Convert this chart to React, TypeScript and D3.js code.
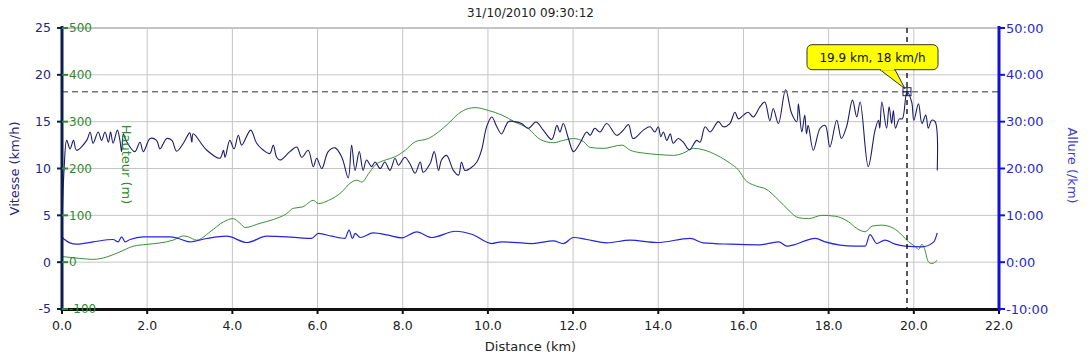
import * as d3 from 'd3';

const TITLE = '31/10/2010 09:30:12';

// Vitesse (km/h) vs distance (km)
const speedKm = [0, 0.05, 0.11, 0.19, 0.27, 0.34, 0.58, 0.66, 0.73, 0.85, 0.93, 1.01, 1.09, 1.14, 1.2, 1.3, 1.36, 1.4, 1.44, 1.5, 1.71, 1.83, 1.91, 2.07, 2.22, 2.3, 2.46, 2.58, 2.69, 2.85, 3.0, 3.05, 3.08, 3.4, 3.71, 3.79, 3.83, 3.94, 4.04, 4.14, 4.22, 4.43, 4.57, 4.73, 4.88, 4.96, 5.04, 5.12, 5.35, 5.51, 5.63, 5.78, 5.9, 5.98, 6.1, 6.25, 6.41, 6.57, 6.72, 6.8, 6.88, 6.98, 7.07, 7.15, 7.27, 7.35, 7.47, 7.58, 7.7, 7.82, 7.9, 8.05, 8.17, 8.29, 8.41, 8.48, 8.64, 8.74, 8.84, 8.91, 9.03, 9.19, 9.31, 9.38, 9.46, 9.58, 9.74, 9.85, 9.97, 10.09, 10.21, 10.32, 10.48, 10.63, 10.79, 10.95, 11.13, 11.3, 11.5, 11.62, 11.69, 11.77, 11.89, 12.01, 12.16, 12.32, 12.4, 12.51, 12.63, 12.79, 13.02, 13.18, 13.3, 13.41, 13.65, 13.81, 13.92, 14.0, 14.06, 14.12, 14.2, 14.28, 14.35, 14.47, 14.59, 14.73, 14.9, 14.98, 15.1, 15.22, 15.41, 15.53, 15.68, 15.8, 15.88, 16.0, 16.11, 16.23, 16.39, 16.5, 16.62, 16.7, 16.82, 16.99, 17.13, 17.25, 17.29, 17.37, 17.44, 17.48, 17.52, 17.64, 17.8, 17.92, 18.03, 18.19, 18.3, 18.42, 18.56, 18.66, 18.74, 18.93, 19.09, 19.17, 19.2, 19.25, 19.36, 19.42, 19.48, 19.52, 19.57, 19.66, 19.73, 19.84, 19.95, 20.0, 20.11, 20.19, 20.28, 20.34, 20.42, 20.5, 20.55];
const speedKmh = [4, 10, 13.0, 12.1, 13.0, 11.95, 13.0, 13.9, 12.7, 13.9, 13.0, 13.9, 12.8, 13.9, 12.7, 14.1, 13.0, 11.8, 13.7, 13.0, 11.8, 12.8, 11.8, 13.2, 13.0, 12.1, 13.2, 13.0, 11.85, 12.7, 13.8, 12.8, 13.7, 11.95, 11.1, 11.95, 11.2, 13.0, 12.1, 13.55, 12.5, 14.1, 12.7, 11.95, 11.6, 12.5, 11.2, 10.9, 11.8, 12.3, 11.2, 11.95, 10.2, 11.1, 10.0, 11.8, 12.2, 11.2, 9.0, 12.5, 9.8, 11.8, 9.8, 10.9, 10.2, 10.7, 10.0, 10.7, 9.8, 11.1, 10.35, 11.2, 10.5, 9.5, 10.7, 9.6, 10.5, 11.8, 9.8, 10.9, 11.4, 9.8, 9.3, 10.7, 9.8, 10.0, 10.7, 11.95, 14.45, 15.5, 14.45, 13.7, 15.0, 15.0, 14.8, 14.3, 14.97, 14.1, 13.1, 14.6, 13.9, 14.8, 13.2, 11.8, 12.7, 13.9, 13.55, 14.3, 13.9, 14.8, 13.55, 14.1, 14.7, 13.2, 14.1, 14.45, 13.9, 14.45, 13.4, 13.9, 13.0, 13.7, 12.7, 13.2, 12.8, 12.0, 13.0, 12.8, 14.45, 13.9, 15.0, 14.45, 14.8, 16.0, 15.3, 15.7, 16.0, 15.5, 16.6, 17.1, 15.1, 16.4, 14.8, 18.4, 15.9, 15.0, 16.9, 13.9, 15.7, 13.7, 14.6, 11.95, 14.3, 14.6, 12.3, 15.15, 13.2, 14.45, 17.3, 15.5, 17.1, 10.2, 14.1, 15.15, 14.3, 17.1, 14.3, 16.6, 14.8, 16.2, 14.3, 15.3, 15.3, 18.2, 17.1, 15.15, 16.9, 14.8, 15.7, 14.3, 15.15, 15.0, 9.8];

// Hauteur (m)
const heightKm = [0, 0.42, 0.73, 1.05, 1.36, 1.67, 1.99, 2.3, 2.61, 2.85, 2.97, 3.16, 3.48, 3.79, 4.02, 4.18, 4.3, 4.65, 4.96, 5.28, 5.43, 5.65, 5.9, 6.02, 6.26, 6.57, 6.77, 6.92, 7.04, 7.2, 7.35, 7.59, 7.82, 8.06, 8.29, 8.6, 8.84, 9.07, 9.31, 9.54, 9.7, 10.01, 10.33, 10.64, 10.95, 11.23, 11.54, 11.77, 12.01, 12.25, 12.4, 12.71, 13.15, 13.34, 13.65, 13.97, 14.36, 14.59, 14.83, 15.06, 15.38, 15.69, 15.89, 16.04, 16.32, 16.51, 16.83, 17.06, 17.29, 17.53, 17.84, 18.16, 18.47, 18.66, 18.86, 19.02, 19.25, 19.53, 19.72, 19.88, 20.04, 20.11, 20.19, 20.25, 20.34, 20.42, 20.55];
const heightM = [12, 8, 6, 11, 22, 34, 38, 41, 47, 56, 54, 47, 65, 86, 93, 83, 74, 83, 91, 104, 115, 118, 132, 125, 132, 150, 169, 175, 171, 189, 207, 218, 225, 239, 257, 264, 278, 296, 317, 328, 330, 324, 314, 299, 285, 262, 255, 260, 264, 257, 245, 243, 250, 239, 233, 230, 228, 233, 243, 240, 228, 211, 196, 176, 162, 157, 132, 111, 95, 93, 100, 98, 86, 72, 65, 77, 79, 72, 58, 43, 33, 27, 38, 29, 1, -3, 4];

// Allure (min/km)
const paceKm = [0, 0.03, 0.34, 0.73, 1.2, 1.32, 1.4, 1.48, 1.6, 1.91, 2.54, 2.73, 3.0, 3.4, 3.87, 4.34, 4.81, 5.28, 5.59, 5.86, 6.02, 6.33, 6.64, 6.74, 6.82, 6.88, 7.0, 7.31, 7.66, 7.98, 8.33, 8.68, 9.24, 9.62, 10.09, 10.32, 11.05, 11.54, 11.77, 12.01, 12.32, 12.79, 13.34, 13.97, 14.75, 15.06, 15.69, 16.32, 16.55, 16.83, 17.02, 17.69, 17.92, 18.62, 18.86, 18.97, 19.13, 19.32, 19.56, 19.8, 20.19, 20.47, 20.55];
const paceMin = [5.6, 5.06, 3.84, 4.34, 4.84, 4.34, 5.4, 4.34, 4.84, 5.4, 5.4, 5.06, 4.34, 5.06, 5.55, 4.2, 5.55, 5.4, 5.2, 5.06, 6.13, 5.55, 5.06, 6.83, 5.06, 6.13, 5.27, 6.26, 5.76, 5.2, 6.48, 5.27, 6.6, 5.97, 3.98, 4.34, 3.98, 4.55, 3.98, 5.27, 4.84, 4.12, 4.7, 4.2, 5.06, 4.12, 3.84, 3.7, 3.9, 4.34, 3.42, 5.06, 4.34, 3.42, 3.42, 5.9, 3.98, 4.7, 3.84, 3.42, 3.27, 4.34, 6.26];

const distTicks = [0, 2, 4, 6, 8, 10, 12, 14, 16, 18, 20, 22];
const speedTicks = [-5, 0, 5, 10, 15, 20, 25];
const heightTicks = [-100, 0, 100, 200, 300, 400, 500];
const paceTicks = [-10, 0, 10, 20, 30, 40, 50];

const crossKm = 19.84;
const crossSpeed = 18.2;
const crossLabel = '19.9 km, 18 km/h';

const W = 1092;
const H = 360;
const M = { top: 28, right: 93, bottom: 51, left: 62 };
const FONT = '"DejaVu Sans", Verdana, sans-serif';

const NAVY = '#262680';
const GREEN = '#2d8b2d';
const BLUE = '#2a2ad0';

function fmtPace(m: number) {
  const sign = m < 0 ? '-' : '';
  const a = Math.abs(m);
  const mm = Math.floor(a);
  const ss = Math.round((a - mm) * 60);
  return `${sign}${mm}:${String(ss).padStart(2, '0')}`;
}

export default function App() {
  const x = d3.scaleLinear().domain([0, 22]).range([M.left, W - M.right]);
  const ySpeed = d3.scaleLinear().domain([-5, 25]).range([H - M.bottom, M.top]);
  const yHeight = d3.scaleLinear().domain([-100, 500]).range([H - M.bottom, M.top]);
  const yPace = d3.scaleLinear().domain([-10, 50]).range([H - M.bottom, M.top]);

  const x0 = M.left;
  const x1 = W - M.right;
  const yTop = M.top;
  const yBot = H - M.bottom;

  const speedLine = d3
    .line<number>()
    .x((_, i) => x(speedKm[i]))
    .y((d) => ySpeed(d))
    .curve(d3.curveCatmullRom.alpha(0.5));
  const heightLine = d3
    .line<number>()
    .x((_, i) => x(heightKm[i]))
    .y((d) => yHeight(d))
    .curve(d3.curveMonotoneX);
  const paceLine = d3
    .line<number>()
    .x((_, i) => x(paceKm[i]))
    .y((d) => yPace(d))
    .curve(d3.curveMonotoneX);

  const cx = x(crossKm);
  const cy = ySpeed(crossSpeed);
  const midY = (yTop + yBot) / 2;

  return (
    <svg
      width={W}
      height={H}
      style={{ position: 'absolute', left: 0, top: 0, background: '#fff' }}
      fontFamily={FONT}
    >
      <text x={(x0 + x1) / 2} y={17} textAnchor="middle" fontSize={12} fill="#222">
        {TITLE}
      </text>

      {/* grid */}
      {speedTicks.map((t) => (
        <line key={'gy' + t} x1={x0} x2={x1} y1={ySpeed(t)} y2={ySpeed(t)} stroke="#c4c4c4" strokeWidth={t === 25 ? 2 : 1} />
      ))}
      {distTicks.map((t) => (
        <line key={'gx' + t} x1={x(t)} x2={x(t)} y1={yTop} y2={yBot} stroke="#c4c4c4" strokeWidth={1} />
      ))}

      {/* series */}
      <path d={heightLine(heightM) || ''} fill="none" stroke="#3a8f3a" strokeWidth={1} />
      <path d={paceLine(paceMin) || ''} fill="none" stroke="#2424e0" strokeWidth={1.2} />
      <path d={speedLine(speedKmh) || ''} fill="none" stroke="#1c1c6e" strokeWidth={1.1} />

      {/* crosshair */}
      <line x1={x0} x2={x1} y1={cy} y2={cy} stroke="#777" strokeWidth={1.5} strokeDasharray="6,4" />
      <line x1={cx} x2={cx} y1={yTop} y2={yBot} stroke="#000" strokeWidth={1.3} strokeDasharray="5,4" />
      <rect x={cx - 4} y={cy - 4} width={8} height={8} fill="none" stroke="#1c1c6e" strokeWidth={1} />
      <line x1={cx - 4} x2={cx + 4} y1={cy} y2={cy} stroke="#1c1c6e" strokeWidth={1} />
      <line x1={cx} x2={cx} y1={cy - 4} y2={cy + 4} stroke="#1c1c6e" strokeWidth={1} />

      {/* bottom axis */}
      <line x1={x0} x2={x1 + 1} y1={yBot + 0.5} y2={yBot + 0.5} stroke="#111" strokeWidth={3} />
      {distTicks.map((t) => (
        <g key={'bx' + t}>
          <line x1={x(t)} x2={x(t)} y1={yBot} y2={yBot + 5} stroke="#111" strokeWidth={2} />
          <text x={x(t)} y={330} textAnchor="middle" fontSize={12.5} fill="#222">
            {t.toFixed(1)}
          </text>
        </g>
      ))}
      <text x={(x0 + x1) / 2} y={351} textAnchor="middle" fontSize={13} fill="#222">
        Distance (km)
      </text>

      {/* left axis: speed + height */}
      <line x1={x0} x2={x0} y1={yTop - 2} y2={yBot + 2} stroke="#0d1f4f" strokeWidth={3} />
      {speedTicks.map((t) => (
        <g key={'ls' + t}>
          <line x1={x0 - 5} x2={x0} y1={ySpeed(t)} y2={ySpeed(t)} stroke="#0d1f4f" strokeWidth={2} />
          <text x={51} y={ySpeed(t)} dy="0.35em" textAnchor="end" fontSize={12.5} fill={NAVY}>
            {t}
          </text>
        </g>
      ))}
      {heightTicks.map((t) => (
        <g key={'lh' + t}>
          <line x1={x0} x2={x0 + 6} y1={yHeight(t)} y2={yHeight(t)} stroke={GREEN} strokeWidth={2} />
          <text x={69} y={yHeight(t)} dy="0.35em" textAnchor="start" fontSize={12} fill={GREEN}>
            {t}
          </text>
        </g>
      ))}
      <text transform={`translate(14,${midY}) rotate(-90)`} dy="0.35em" textAnchor="middle" fontSize={13} fill={NAVY}>
        Vitesse (km/h)
      </text>
      <text transform={`translate(127,${midY - 4}) rotate(90)`} dy="0.35em" textAnchor="middle" fontSize={13} fill={GREEN}>
        Hauteur (m)
      </text>

      {/* right axis: pace */}
      <line x1={x1} x2={x1} y1={yTop - 2} y2={yBot + 2} stroke="#1010e0" strokeWidth={3} />
      {paceTicks.map((t) => (
        <g key={'rp' + t}>
          <line x1={x1} x2={x1 + 6} y1={yPace(t)} y2={yPace(t)} stroke="#1010e0" strokeWidth={2} />
          <text x={1006} y={yPace(t)} dy="0.35em" textAnchor="start" fontSize={13} fill={BLUE}>
            {fmtPace(t)}
          </text>
        </g>
      ))}
      <text transform={`translate(1073,${midY - 3}) rotate(90)`} dy="0.35em" textAnchor="middle" fontSize={13} fill="#4040d0">
        Allure (/km)
      </text>

      {/* tooltip */}
      <path
        d={`M${cx - 27},${cy - 22} L${cx - 2},${cy - 3} L${cx - 12},${cy - 22} Z`}
        fill="#ffff00"
        stroke="#333"
        strokeWidth={1}
      />
      <rect x={cx - 100} y={cy - 47} width={131} height={25} rx={5} fill="#ffff00" stroke="#333" strokeWidth={1} />
      <line x1={cx - 26} x2={cx - 13} y1={cy - 22} y2={cy - 22} stroke="#ffff00" strokeWidth={1.5} />
      <text x={cx - 34.5} y={cy - 30} textAnchor="middle" fontSize={12} fill="#111">
        {crossLabel}
      </text>
    </svg>
  );
}
